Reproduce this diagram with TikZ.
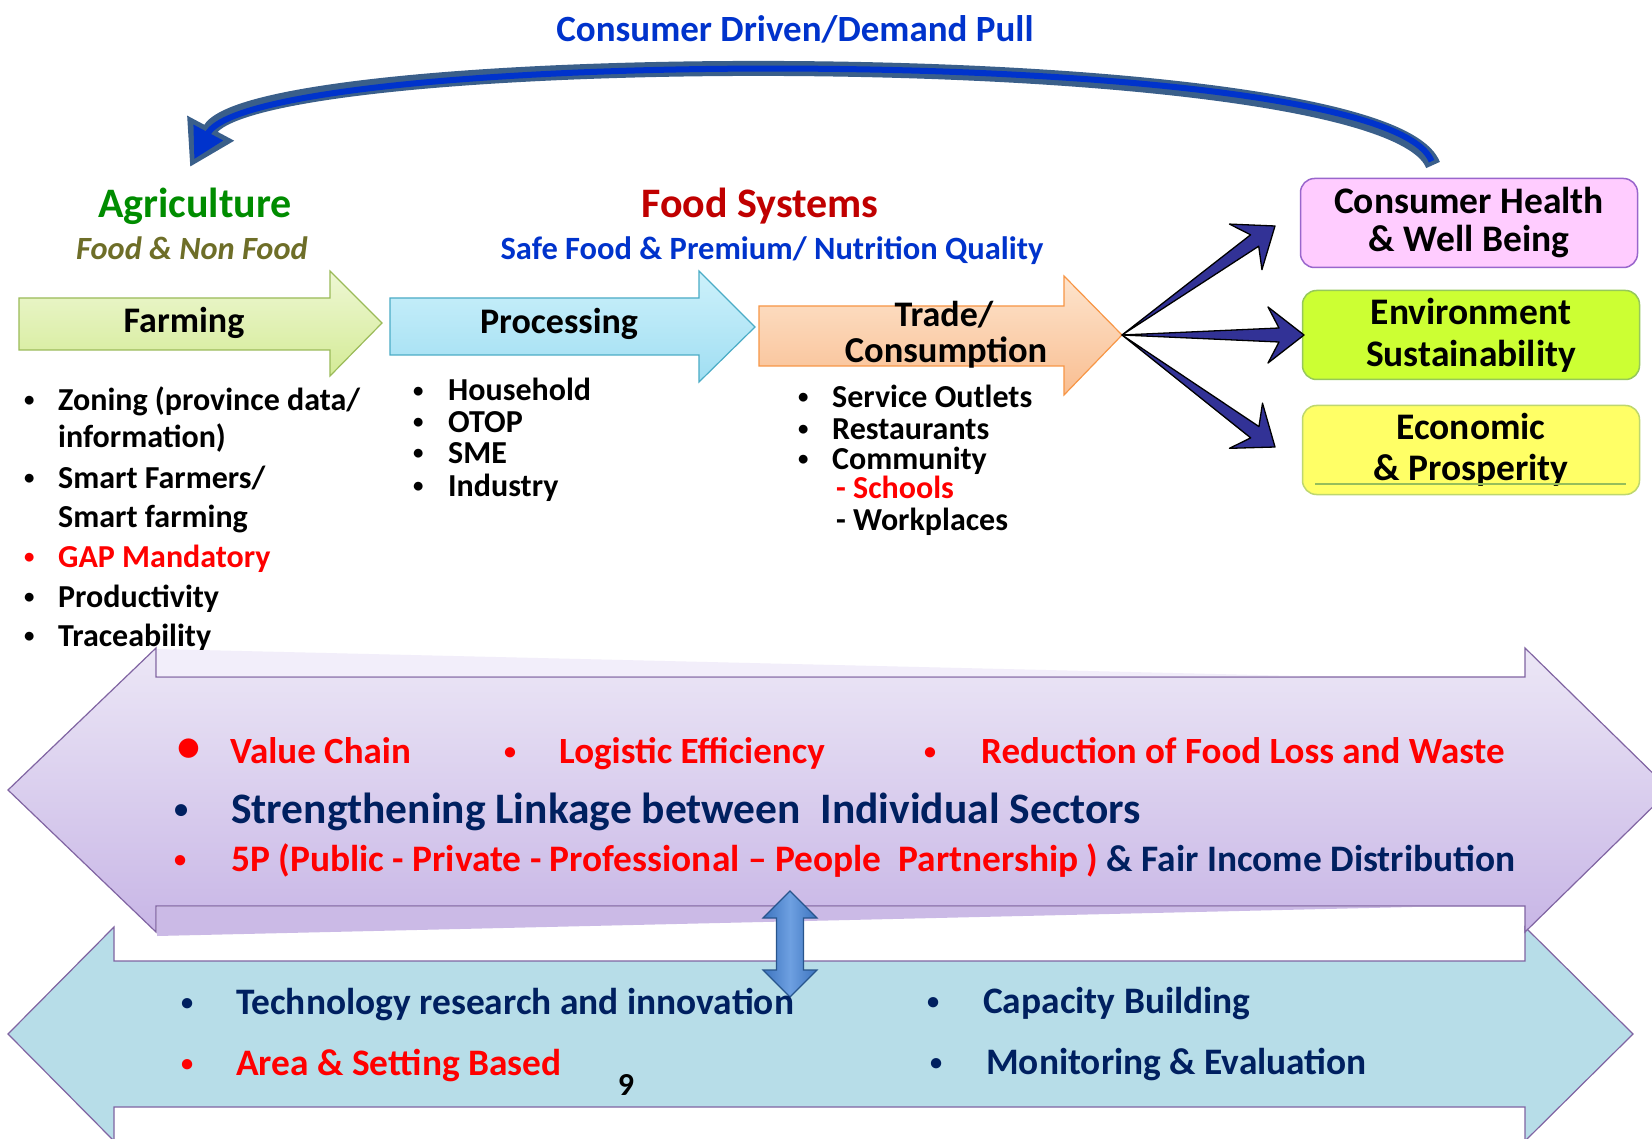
\documentclass[tikz,border=0pt]{standalone}
\usepackage{fontspec}
\usepackage{graphicx}
\setmainfont{Carlito}
\usetikzlibrary{arrows.meta,calc}

\definecolor{navytext}{RGB}{0,32,96}
\definecolor{foodred}{RGB}{192,0,0}
\definecolor{pullblue}{RGB}{0,51,204}
\definecolor{agrigreen}{RGB}{0,140,0}
\definecolor{olivetext}{RGB}{110,110,40}
\definecolor{bandline}{RGB}{128,100,162}
\definecolor{steel}{RGB}{58,95,138}
\definecolor{fannavy}{RGB}{50,50,150}
\definecolor{linkblue}{RGB}{60,115,190}
\definecolor{linkedge}{RGB}{40,85,140}

\newcommand{\smallbullet}{\raisebox{0.1em}{\scalebox{0.65}{•}}}

\tikzset{
  listitem/.style={anchor=base west,inner sep=0pt,font=\fontsize{32}{34}\selectfont\bfseries},
  rowitem/.style={anchor=base west,inner sep=0pt,font=\fontsize{37.4}{38}\selectfont\bfseries},
  stagetext/.style={anchor=base,inner sep=0pt,font=\fontsize{36}{36}\selectfont\bfseries},
  outcome/.style={draw,rounded corners=14pt,minimum width=337pt,minimum height=89pt,
    align=center,line width=1.5pt,inner sep=0pt},
  fanstyle/.style={fill=fannavy,draw=black,line width=1.3pt,line join=round},
}

\newcommand{\fanarrow}[2]{%
  \coordinate (notch) at ($(#2)!25pt!(#1)$);
  \coordinate (barb) at ($(#2)!36pt!(#1)$);
  \draw [fanstyle] (#1) -- ($(notch)!7pt!90:(#2)$) -- ($(barb)!28pt!90:(#2)$) -- (#2)
    -- ($(barb)!28pt!-90:(#2)$) -- ($(notch)!7pt!-90:(#2)$) -- cycle;}

\begin{document}
\begin{tikzpicture}[x=1pt,y=1pt,yscale=-1]
\useasboundingbox (0,0) rectangle (1652,1139);
\fill[white] (0,0) rectangle (1652,1139);
\clip (0,0) rectangle (1652,1139);

%Curved Arrow (demand pull)
\coordinate (pullstart) at (1433,165);
\coordinate (pullend) at (190,167);
\draw [steel, line width=15pt, -{Triangle[length=44pt,width=50pt]}] (pullstart) .. controls (1385,40) and (255,45) .. (pullend);
\draw [pullblue, line width=6pt, shorten <=4pt, shorten >=9pt, -{Triangle[length=30pt,width=32pt]}] (pullstart) .. controls (1385,40) and (255,45) .. (pullend);

% Text Node
\node [anchor=base, inner sep=0pt, pullblue, font=\fontsize{37}{37}\selectfont\bfseries] (pulltext) at (795,42) {Consumer Driven/Demand Pull};

% Text Node
\node [anchor=base, inner sep=0pt, agrigreen, font=\fontsize{42}{42}\selectfont\bfseries] (agri) at (195,218) {Agriculture};
\node [anchor=base, inner sep=0pt, olivetext, font=\fontsize{32.4}{32}\selectfont\bfseries\itshape] (nonfood) at (192,260) {Food \& Non Food};
\node [anchor=base, inner sep=0pt, foodred, font=\fontsize{42}{42}\selectfont\bfseries] (foodsys) at (760,218) {Food Systems};
\node [anchor=base, inner sep=0pt, pullblue, font=\fontsize{32.5}{32}\selectfont\bfseries] (safefood) at (772,260) {Safe Food \& Premium/ Nutrition Quality};

%Shape: Right Arrow
\draw [draw={rgb,255:red,155;green,187;blue,89}, line width=1.2pt, top color={rgb,255:red,238;green,247;blue,212}, bottom color={rgb,255:red,212;green,235;blue,150}]
  (19,298) -- (330,298) -- (330,271) -- (382,323) -- (330,376) -- (330,350) -- (19,350) -- cycle;
%Shape: Right Arrow
\draw [draw={rgb,255:red,75;green,172;blue,198}, line width=1.2pt, top color={rgb,255:red,205;green,241;blue,251}, bottom color={rgb,255:red,160;green,222;blue,242}]
  (390,298) -- (699,298) -- (699,271) -- (755,327) -- (699,382) -- (699,355) -- (390,355) -- cycle;
%Shape: Right Arrow
\coordinate (tradetip) at (1122,335);
\draw [draw={rgb,255:red,247;green,150;blue,70}, line width=1.2pt, top color={rgb,255:red,253;green,228;blue,205}, bottom color={rgb,255:red,249;green,190;blue,145}]
  (759,306) -- (1064,306) -- (1064,276) -- (tradetip) -- (1064,395) -- (1064,366) -- (759,366) -- cycle;

% Text Node
\node [stagetext] (farming) at (184,333) {Farming};
\node [stagetext] (processing) at (559,334) {Processing};
\node [stagetext, font=\fontsize{36}{36}\selectfont\bfseries] (trade) at (944,327) {Trade/};
\node [stagetext, font=\fontsize{36.5}{37}\selectfont\bfseries] (consumption) at (946,363) {Consumption};

% Text Node (farming list)
\node [listitem] (zoning) at (24,410) {\makebox[34pt][l]{\smallbullet}Zoning (province data/};
\node [listitem] (zoninginfo) at (58,447) {information)};
\node [listitem] (smartfarmers) at (24,488) {\makebox[34pt][l]{\smallbullet}Smart Farmers/};
\node [listitem] (smartfarming) at (58,527) {Smart farming};
\node [listitem, red] (gap) at (24,567) {\makebox[34pt][l]{\smallbullet}GAP Mandatory};
\node [listitem] (productivity) at (24,607) {\makebox[34pt][l]{\smallbullet}Productivity};
\node [listitem] (traceability) at (24,646) {\makebox[34pt][l]{\smallbullet}Traceability};

% Text Node (processing list)
\node [listitem] (household) at (413,401) {\makebox[35pt][l]{\smallbullet}Household};
\node [listitem] (otop) at (413,432) {\makebox[35pt][l]{\smallbullet}OTOP};
\node [listitem] (sme) at (413,463) {\makebox[35pt][l]{\smallbullet}SME};
\node [listitem] (industry) at (413,496) {\makebox[35pt][l]{\smallbullet}Industry};

% Text Node (trade list)
\node [listitem] (outlets) at (798,407) {\makebox[34pt][l]{\smallbullet}Service Outlets};
\node [listitem] (restaurants) at (798,439) {\makebox[34pt][l]{\smallbullet}Restaurants};
\node [listitem] (community) at (798,469) {\makebox[34pt][l]{\smallbullet}Community};
\node [listitem, red] (schools) at (836,498) {- Schools};
\node [listitem] (workplaces) at (836,530) {- Workplaces};

% Outcome boxes
\node [outcome, draw={rgb,255:red,153;green,102;blue,204}, fill={rgb,255:red,255;green,204;blue,255}, font=\fontsize{37.5}{38}\selectfont\bfseries] (health) at (1469,223) {Consumer Health\\\& Well Being};
\node [outcome, draw={rgb,255:red,150;green,200;blue,90}, fill={rgb,255:red,204;green,255;blue,51}, font=\fontsize{37.5}{42}\selectfont\bfseries] (environment) at (1471,335) {Environment\\Sustainability};
\node [outcome, draw={rgb,255:red,190;green,215;blue,110}, fill={rgb,255:red,255;green,255;blue,102}, font=\fontsize{37.5}{41}\selectfont\bfseries] (economic) at (1471,450) {Economic\\\& Prosperity};
\draw [color={rgb,255:red,150;green,190;blue,90}, line width=1.5pt] (1315,484) -- (1626,484);

% Fan arrows
\coordinate (healthtip) at (1275,226);
\coordinate (environmenttip) at (1304,335);
\coordinate (economictip) at (1275,447);
\fanarrow{tradetip}{healthtip}
\fanarrow{tradetip}{environmenttip}
\fanarrow{tradetip}{economictip}

%Shape: Left Right Arrow (support)
\draw [bandline, line width=1.2pt, fill={rgb,255:red,183;green,221;blue,232}]
  (8,1034) -- (114,927) -- (114,961) -- (1525,961) -- (1525,927) -- (1633,1034) -- (1525,1141) -- (1525,1107) -- (114,1107) -- (114,1141) -- cycle;

%Shape: Left Right Arrow (linkage)
\draw [bandline, line width=1.2pt, top color={rgb,255:red,236;green,231;blue,246}, bottom color={rgb,255:red,200;green,182;blue,230}]
  (8,790) -- (156,648) -- (156,677) -- (1525,677) -- (1525,648) -- (1670,790) -- (1525,932) -- (1525,906) -- (156,906) -- (156,932) -- cycle;
\fill [fill={rgb,255:red,242;green,238;blue,250}] (157,649) -- (1300,676) -- (157,676) -- cycle;
\fill [fill={rgb,255:red,203;green,186;blue,230}] (157,907) -- (1412,907) -- (157,936) -- cycle;

%Shape: Up Down Arrow
\draw [linkedge, line width=1.2pt, left color=linkblue, right color=linkblue, middle color={rgb,255:red,110;green,160;blue,225}]
  (790,891) -- (817,918) -- (803.5,918) -- (803.5,970) -- (817,970) -- (790,997) -- (763,970) -- (776.5,970) -- (776.5,918) -- (763,918) -- cycle;

% Text Node (linkage rows)
\node [rowitem, red, font=\fontsize{37}{38}\selectfont\bfseries] (valuechain) at (177,763) {\makebox[53pt][l]{\raisebox{2pt}{\fontsize{46}{46}\selectfont •}}Value Chain};
\node [rowitem, red, font=\fontsize{37}{38}\selectfont\bfseries] (logistic) at (504,763) {\makebox[55pt][l]{\smallbullet}Logistic Efficiency};
\node [rowitem, red, font=\fontsize{37}{38}\selectfont\bfseries] (reduction) at (924,763) {\makebox[57pt][l]{\smallbullet}Reduction of Food Loss and Waste};
\node [rowitem, navytext, font=\fontsize{43.5}{44}\selectfont\bfseries] (linkage) at (174,823) {\makebox[57pt][l]{\smallbullet}Strengthening Linkage between~~Individual Sectors};
\node [rowitem, red] (fivep) at (174,871) {\makebox[57pt][l]{\smallbullet}5P (Public - Private - Professional – People~~Partnership ) {\color{navytext}\& Fair Income Distribution}};

% Text Node (support rows)
\node [rowitem, navytext] (technology) at (181,1014) {\makebox[55pt][l]{\smallbullet}Technology research and innovation};
\node [rowitem, red] (area) at (181,1075) {\makebox[55pt][l]{\smallbullet}Area \& Setting Based};
\node [rowitem, navytext] (capacity) at (927,1013) {\makebox[56pt][l]{\smallbullet}Capacity Building};
\node [rowitem, navytext] (monitoring) at (930,1074) {\makebox[56pt][l]{\smallbullet}Monitoring \& Evaluation};
\node [anchor=base, inner sep=0pt, font=\fontsize{32}{32}\selectfont\bfseries] (pagenum) at (626,1095) {9};

\end{tikzpicture}
\end{document}
